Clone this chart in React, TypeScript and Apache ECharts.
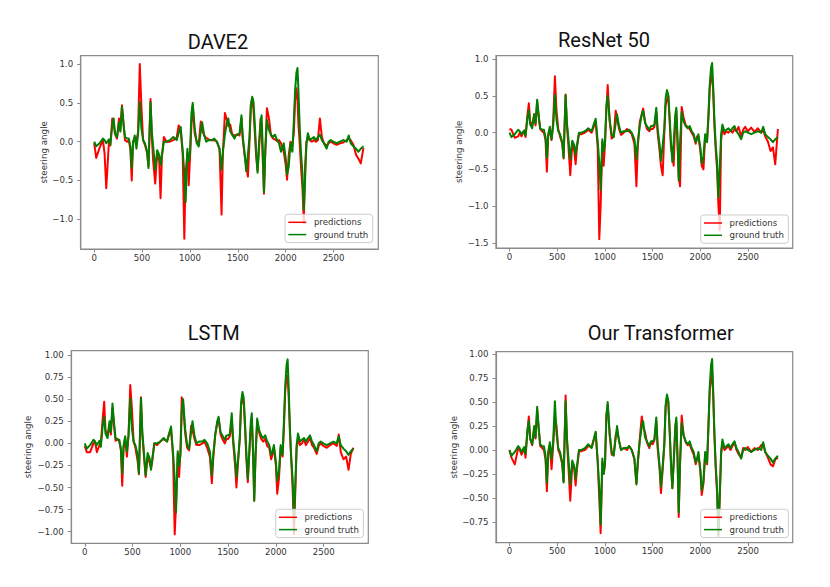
import { useEffect, useRef } from "react";
import * as echarts from "echarts";

// frame index (x axis)
const steps = [
  0, 21, 56, 91, 108, 126, 154, 168, 189, 203,
  217, 238, 259, 273, 290, 308, 322, 343, 361, 378,
  392, 406, 423, 441, 458, 476, 493, 511, 530, 553,
  567, 588, 602, 616, 637, 658, 679, 693, 707, 728,
  756, 790, 826, 861, 882, 903, 924, 941, 955, 973,
  987, 1001, 1015, 1029, 1050, 1071, 1092, 1113, 1127, 1148,
  1169, 1197, 1232, 1253, 1281, 1309, 1330, 1344, 1365, 1386,
  1400, 1421, 1440, 1465, 1482, 1500, 1518, 1538, 1552, 1573,
  1587, 1605, 1622, 1636, 1650, 1664, 1678, 1692, 1706, 1720,
  1738, 1748, 1762, 1773, 1787, 1804, 1825, 1846, 1867, 1888,
  1909, 1930, 1951, 1965, 1979, 2000, 2014, 2032, 2050, 2070,
  2085, 2098, 2112, 2123, 2133, 2147, 2161, 2175, 2189, 2203,
  2217, 2231, 2252, 2273, 2294, 2315, 2336, 2357, 2378, 2399,
  2427, 2448, 2469, 2497, 2532, 2567, 2602, 2637, 2658, 2679,
  2707, 2735, 2760, 2784, 2812,
];

const groundTruth = [
  0.0, -0.06, -0.02, 0.04, 0.02, -0.02, 0.03, -0.04, 0.21, 0.3,
  0.11, 0.06, 0.25, 0.13, 0.45, 0.21, 0.06, 0.04, 0.04, -0.06,
  -0.34, -0.02, 0.08, -0.09, 0.09, 0.51, 0.17, 0.02, -0.02, -0.13,
  -0.34, 0.51, 0.13, -0.06, -0.36, -0.11, -0.17, -0.3, -0.17, 0.0,
  0.0, 0.02, 0.06, 0.02, 0.11, 0.19, -0.11, -0.4, -0.78, -0.09,
  -0.25, -0.13, 0.36, 0.5, 0.17, -0.02, -0.06, 0.13, 0.25, 0.09,
  0.0, 0.02, 0.02, 0.04, 0.0, -0.09, -0.36, -0.13, 0.09, 0.25,
  0.3, 0.13, 0.09, 0.04, 0.09, 0.09, 0.11, 0.34, 0.06, -0.17,
  -0.38, -0.17, 0.06, 0.47, 0.58, 0.51, 0.21, -0.13, -0.4, -0.13,
  0.25, 0.34, -0.13, -0.65, -0.13, 0.28, 0.15, 0.09, 0.06, 0.09,
  0.02, -0.02, -0.13, -0.09, -0.02, -0.21, -0.42, -0.32, -0.02, -0.13,
  0.28, 0.66, 0.89, 0.95, 0.66, 0.17, -0.17, -0.4, -0.88, -0.47,
  -0.02, 0.11, 0.02, 0.04, 0.06, 0.02, 0.06, 0.09, 0.02, -0.02,
  -0.09, 0.0, 0.02, 0.0, -0.02, 0.0, 0.02, 0.0, 0.08, -0.02,
  -0.06, -0.09, -0.13, -0.09, -0.06,
];

const predDave2 = [
  -0.02, -0.21, -0.08, 0.02, -0.15, -0.6, 0.0, -0.05, 0.3, 0.25,
  0.1, 0.04, 0.3, 0.15, 0.47, 0.2, 0.02, 0.0, 0.02, -0.1,
  -0.5, 0.0, 0.05, 0.02, 0.12, 1.0, 0.45, 0.02, -0.04, -0.15,
  -0.32, 0.55, 0.05, -0.25, -0.54, -0.15, -0.25, -0.73, -0.2, 0.06,
  0.0, 0.0, 0.02, 0.05, 0.21, 0.15, -0.15, -1.25, -0.4, -0.15,
  -0.56, -0.2, 0.2, 0.47, 0.1, 0.0, -0.02, 0.26, 0.15, 0.08,
  0.05, 0.03, 0.02, 0.02, 0.0, -0.1, -0.94, -0.15, 0.37, 0.28,
  0.2, 0.22, 0.1, 0.08, 0.08, 0.1, 0.08, 0.3, 0.02, -0.2,
  -0.3, -0.45, 0.0, 0.47, 0.56, 0.4, 0.1, -0.2, -0.37, -0.05,
  0.3, 0.15, -0.3, -0.67, -0.1, 0.43, 0.3, 0.08, 0.04, 0.03,
  0.01, 0.02, -0.02, -0.08, -0.12, -0.3, -0.49, -0.17, 0.0, -0.05,
  0.12, 0.52, 0.69, 0.55, 0.22, -0.04, -0.35, -0.6, -1.05, -0.3,
  0.0, 0.04, 0.02, 0.0, 0.02, 0.0, 0.02, 0.3, 0.06, -0.02,
  -0.05, -0.02, 0.0, -0.02, -0.04, -0.02, -0.01, 0.02, 0.04, 0.02,
  -0.04, -0.17, -0.22, -0.28, -0.08,
];

const predResNet = [
  0.05, 0.04, -0.07, -0.05, 0.0, -0.05, 0.03, -0.06, 0.25, 0.4,
  0.15, 0.1, 0.25, 0.1, 0.42, 0.2, 0.05, 0.02, 0.0, -0.1,
  -0.53, -0.05, 0.05, -0.1, 0.15, 0.77, 0.3, 0.05, -0.05, -0.15,
  -0.35, 0.52, 0.1, -0.15, -0.58, -0.15, -0.25, -0.43, -0.2, -0.02,
  -0.02, 0.0, 0.04, 0.0, 0.08, 0.15, -0.2, -1.45, -1.0, -0.12,
  -0.45, -0.15, 0.3, 0.65, 0.15, -0.08, -0.05, 0.3, 0.2, 0.05,
  -0.03, 0.0, 0.05, 0.02, -0.02, -0.15, -0.73, -0.2, 0.15, 0.25,
  0.33, 0.15, 0.05, 0.02, 0.05, 0.05, 0.08, 0.28, 0.0, -0.25,
  -0.45, -0.58, 0.0, 0.38, 0.45, 0.5, 0.15, -0.2, -0.3, -0.45,
  0.2, 0.3, -0.2, -0.6, -0.73, 0.35, 0.2, 0.1, 0.08, 0.05,
  0.0, -0.05, -0.15, -0.05, -0.05, -0.25, -0.45, -0.5, -0.05, -0.1,
  0.2, 0.6, 0.75, 0.78, 0.6, 0.1, -0.25, -0.5, -1.0, -1.33,
  -0.1, 0.05, -0.02, 0.02, 0.0, 0.04, 0.0, 0.05, 0.02, 0.08,
  -0.05, 0.04, 0.08, 0.02, 0.07, 0.01, 0.06, 0.0, 0.04, -0.05,
  -0.12, -0.25, -0.2, -0.43, 0.05,
];

const predLstm = [
  -0.03, -0.1, -0.1, 0.0, 0.02, -0.1, -0.02, 0.0, 0.3, 0.47,
  0.15, 0.08, 0.2, 0.1, 0.4, 0.18, 0.03, 0.05, 0.02, -0.08,
  -0.48, -0.05, 0.05, -0.15, 0.1, 0.66, 0.4, 0.02, -0.05, -0.2,
  -0.35, 0.52, 0.1, -0.1, -0.38, -0.15, -0.22, -0.28, -0.2, 0.0,
  -0.02, 0.02, 0.05, 0.02, 0.1, 0.15, -0.15, -1.03, -0.7, -0.12,
  -0.38, -0.1, 0.52, 0.45, 0.12, -0.05, -0.08, 0.2, 0.15, 0.05,
  -0.02, -0.02, 0.0, 0.02, -0.05, -0.15, -0.45, -0.18, 0.1, 0.22,
  0.28, 0.1, 0.05, 0.0, 0.05, 0.05, 0.08, 0.25, 0.02, -0.25,
  -0.5, -0.2, 0.05, 0.43, 0.5, 0.45, 0.15, -0.2, -0.44, -0.15,
  0.2, 0.28, -0.15, -0.65, -0.15, 0.25, 0.12, 0.05, 0.02, 0.05,
  -0.03, -0.05, -0.18, -0.12, -0.05, -0.25, -0.57, -0.4, -0.05, -0.15,
  0.2, 0.6, 0.77, 0.75, 0.55, 0.12, -0.2, -0.5, -1.03, -0.55,
  -0.05, 0.05, -0.02, 0.0, 0.04, -0.02, 0.02, 0.06, -0.02, -0.05,
  -0.12, -0.03, 0.0, -0.03, -0.05, -0.02, 0.0, -0.03, 0.1, -0.1,
  -0.18, -0.15, -0.3, -0.12, -0.05,
];

const predTransformer = [
  0.0, -0.08, -0.15, 0.02, 0.0, -0.05, 0.02, -0.08, 0.2, 0.35,
  0.12, 0.05, 0.22, 0.12, 0.42, 0.2, 0.04, 0.02, 0.0, -0.1,
  -0.43, -0.05, 0.05, -0.2, 0.05, 0.35, 0.25, 0.0, -0.05, -0.15,
  -0.33, 0.57, 0.1, -0.15, -0.53, -0.15, -0.2, -0.37, -0.2, -0.02,
  -0.01, 0.0, 0.04, 0.03, 0.1, 0.18, -0.12, -0.5, -0.87, -0.12,
  -0.25, -0.15, 0.35, 0.47, 0.15, -0.05, -0.05, 0.15, 0.2, 0.1,
  0.0, 0.02, 0.0, 0.04, 0.0, -0.1, -0.35, -0.15, 0.12, 0.35,
  0.25, 0.18, 0.08, 0.02, 0.08, 0.06, 0.1, 0.3, 0.02, -0.2,
  -0.45, -0.2, 0.05, 0.45, 0.55, 0.5, 0.2, -0.15, -0.4, -0.15,
  0.25, 0.3, -0.15, -0.7, -0.15, 0.36, 0.15, 0.08, 0.05, 0.06,
  0.0, -0.05, -0.15, -0.1, -0.05, -0.22, -0.47, -0.35, -0.05, -0.15,
  0.25, 0.62, 0.75, 0.8, 0.6, 0.15, -0.2, -0.45, -0.9, -0.5,
  -0.05, 0.08, 0.0, 0.02, 0.04, 0.0, 0.04, 0.08, 0.0, -0.04,
  -0.08, 0.02, 0.0, 0.03, -0.02, 0.02, 0.0, 0.05, 0.06, -0.02,
  -0.08, -0.15, -0.17, -0.1, -0.08,
];

const xTicks = [0, 500, 1000, 1500, 2000, 2500];
const yTicksDave2 = [-1, -0.5, 0, 0.5, 1];
const yTicksResNet = [-1.5, -1, -0.5, 0, 0.5, 1];
const yTicksLstm = [-1, -0.75, -0.5, -0.25, 0, 0.25, 0.5, 0.75, 1];
const yTicksTransformer = [-0.75, -0.5, -0.25, 0, 0.25, 0.5, 0.75, 1];
const titles = ["DAVE2", "ResNet 50", "LSTM", "Our Transformer"];
const seriesNames = ["predictions", "ground truth"];
const yName = "steering angle";

const panels = [
  {
    title: titles[0], pred: predDave2, yTicks: yTicksDave2, decimals: 1,
    yMin: -1.383, yMax: 1.108,
    grid: { left: 80.7, top: 55.7, width: 297.6, height: 193.3 },
    nameGap: 32, titleX: 218, titleY: 41.8, legendLeft: 285, legendTop: 214.3,
  },
  {
    title: titles[1], pred: predResNet, yTicks: yTicksResNet, decimals: 1,
    yMin: -1.571, yMax: 1.049,
    grid: { left: 496, top: 55.7, width: 296.7, height: 192.3 },
    nameGap: 32, titleX: 604, titleY: 40, legendLeft: 700.7, legendTop: 215,
  },
  {
    title: titles[2], pred: predLstm, yTicks: yTicksLstm, decimals: 2,
    yMin: -1.131, yMax: 1.048,
    grid: { left: 71.3, top: 350.7, width: 297, height: 192.6 },
    nameGap: 38.5, titleX: 213.7, titleY: 333.3, legendLeft: 275.7, legendTop: 509.3,
  },
  {
    title: titles[3], pred: predTransformer, yTicks: yTicksTransformer, decimals: 2,
    yMin: -0.968, yMax: 1.026,
    grid: { left: 496, top: 351.7, width: 296.7, height: 191 },
    nameGap: 38, titleX: 660.7, titleY: 333.3, legendLeft: 700.7, legendTop: 509.3,
  },
];

const AXIS_COLOR = "#8a8a8a";
const TEXT_COLOR = "#333";
const SMALL_FONT = "DejaVu Sans";

function fmt(v: number, d: number) {
  const s = Math.abs(v) < 1e-9 ? (0).toFixed(d) : v.toFixed(d);
  return s.replace("-", "\u2212");
}

export default function App() {
  const ref = useRef<HTMLDivElement>(null);
  useEffect(() => {
    if (!ref.current) return;
    const chart = echarts.init(ref.current, undefined, { renderer: "svg" });
    const option: any = {
      animation: false,
      backgroundColor: "#ffffff",
      grid: panels.map((p) => ({
        ...p.grid,
        show: true,
        borderColor: AXIS_COLOR,
        borderWidth: 1.2,
        backgroundColor: "transparent",
        containLabel: false,
        outerBoundsMode: "none",
      })),
      xAxis: panels.map((p, i) => ({
        type: "value",
        gridIndex: i,
        min: -141,
        max: 2967,
        splitLine: { show: false },
        axisLine: { show: true, onZero: false, lineStyle: { color: AXIS_COLOR, width: 1.2 } },
        axisTick: { show: true, customValues: xTicks, length: 3.5, lineStyle: { color: AXIS_COLOR } },
        axisLabel: {
          customValues: xTicks,
          margin: 4,
          fontFamily: SMALL_FONT,
          fontSize: 8.6,
          color: TEXT_COLOR,
          formatter: (v: number) => String(v),
        },
      })),
      yAxis: panels.map((p, i) => ({
        type: "value",
        gridIndex: i,
        min: p.yMin,
        max: p.yMax,
        name: yName,
        nameLocation: "middle",
        nameGap: p.nameGap,
        nameTextStyle: { fontFamily: SMALL_FONT, fontSize: 8.7, color: TEXT_COLOR },
        splitLine: { show: false },
        axisLine: { show: true, onZero: false, lineStyle: { color: AXIS_COLOR, width: 1.2 } },
        axisTick: { show: true, customValues: p.yTicks, length: 3.5, lineStyle: { color: AXIS_COLOR } },
        axisLabel: {
          customValues: p.yTicks,
          margin: 7.5,
          fontFamily: SMALL_FONT,
          fontSize: 8.6,
          color: TEXT_COLOR,
          formatter: (v: number) => fmt(v, p.decimals),
        },
      })),
      legend: panels.map((p) => ({
        orient: "vertical",
        left: p.legendLeft,
        top: p.legendTop,
        selectedMode: false,
        data: seriesNames.map((n) => ({ name: n, icon: "rect" })),
        itemWidth: 18,
        itemHeight: 1.5,
        itemGap: 1.3,
        padding: [2.5, 4.5, 2.5, 3.3],
        backgroundColor: "rgba(255,255,255,0.8)",
        borderColor: "#cccccc",
        borderWidth: 1,
        borderRadius: 3,
        textStyle: {
          fontFamily: SMALL_FONT,
          fontSize: 8.6,
          color: TEXT_COLOR,
          lineHeight: 11,
          padding: [0, 0, 0, 2.6],
        },
      })),
      series: panels.flatMap((p, i) => [
        {
          name: seriesNames[0],
          type: "line",
          xAxisIndex: i,
          yAxisIndex: i,
          data: steps.map((s, k) => [s, p.pred[k]]),
          showSymbol: false,
          symbol: "none",
          silent: true,
          color: "#ff0000",
          lineStyle: { color: "#ff0000", width: 2, join: "round" },
          itemStyle: { color: "#ff0000" },
          z: 2,
        },
        {
          name: seriesNames[1],
          type: "line",
          xAxisIndex: i,
          yAxisIndex: i,
          data: steps.map((s, k) => [s, groundTruth[k]]),
          showSymbol: false,
          symbol: "none",
          silent: true,
          color: "#008000",
          lineStyle: { color: "#008000", width: 2, join: "round" },
          itemStyle: { color: "#008000" },
          z: 3,
        },
      ]),
      graphic: panels.map((p) => ({
        type: "text",
        x: p.titleX,
        y: p.titleY,
        silent: true,
        style: {
          text: p.title,
          align: "center",
          verticalAlign: "middle",
          fontFamily: "Roboto",
          fontSize: 20,
          fill: "#111",
        },
      })),
    };
    chart.setOption(option);
    return () => chart.dispose();
  }, []);
  return (
    <div
      ref={ref}
      style={{ position: "absolute", left: 0, top: 0, width: 830, height: 587, background: "#fff" }}
    />
  );
}
